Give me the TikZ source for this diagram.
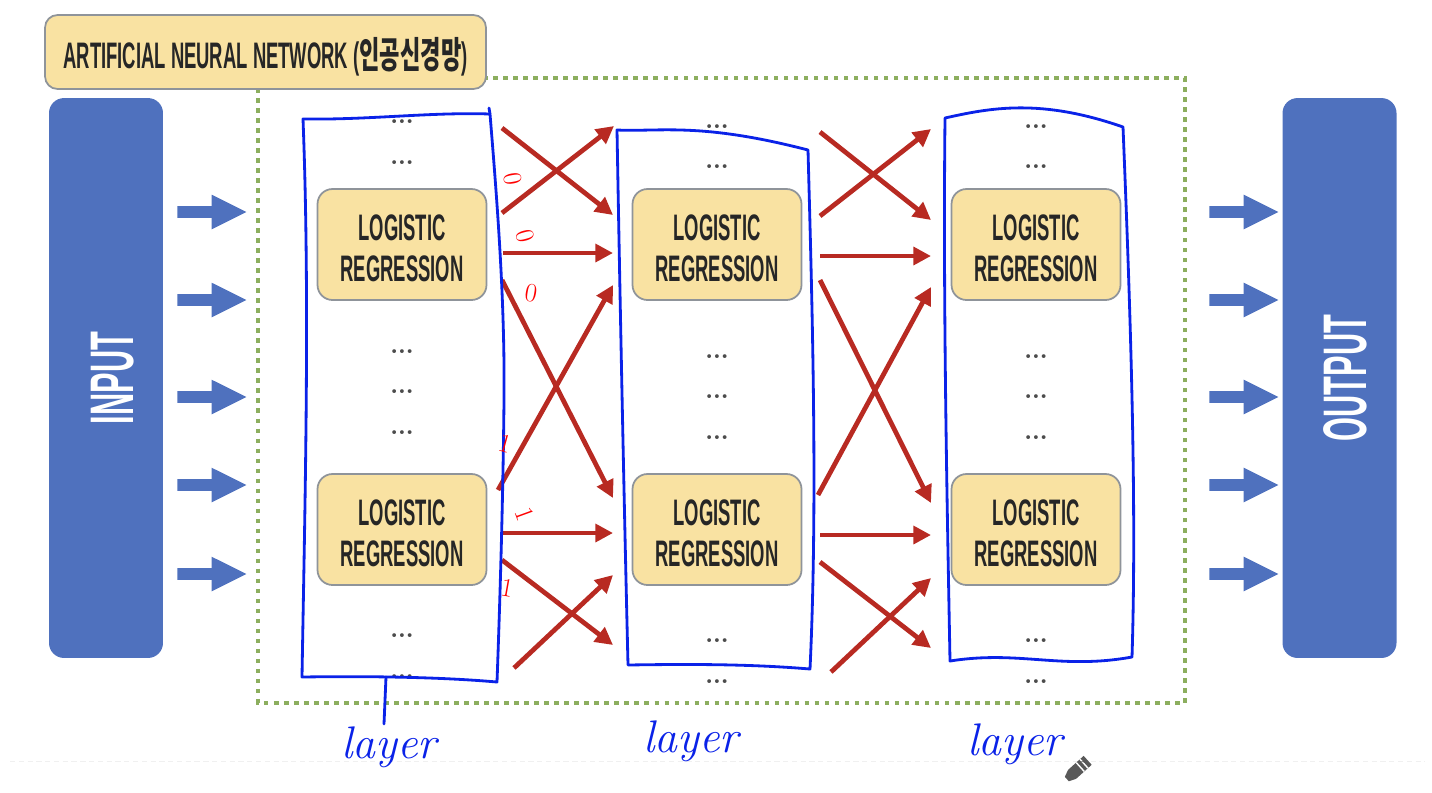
\documentclass[tikz,border=0pt]{standalone}
\usepackage{fontspec}
\usetikzlibrary{arrows.meta,shapes.arrows}
\newfontfamily\posterfont[FakeStretch=0.5]{Liberation Sans}
\newfontfamily\posterhangul[FakeStretch=0.6]{Noto Sans CJK KR}
\newfontfamily\dotfont{DejaVu Sans}
\newcommand{\pushdown}[1]{\rule{0pt}{#1}}
\definecolor{boxblue}{HTML}{4F71BE}
\definecolor{boxsand}{HTML}{F9E2A2}
\definecolor{boxedge}{HTML}{8F949A}
\definecolor{dotgreen}{HTML}{8CAE5E}
\definecolor{crossred}{HTML}{B82A22}
\definecolor{penblue}{HTML}{0A22E8}
\tikzset{
  sidebox/.style={fill=boxblue, rounded corners=0.3cm, minimum width=2.28cm, minimum height=11.2cm},
  sidetext/.style={text=white, font=\posterfont\bfseries\fontsize{35}{35}\selectfont, rotate=90},
  logitbox/.style={draw=boxedge, line width=1pt, fill=boxsand, rounded corners=0.3cm, minimum width=3.38cm, minimum height=2.22cm,
    align=center, font=\posterfont\bfseries\fontsize{21}{23}\selectfont, text=black!85},
  feedarrow/.style={single arrow, fill=boxblue, minimum height=1.38cm, minimum width=0.68cm,
    single arrow head extend=0.23cm, single arrow tip angle=53, inner xsep=0pt, inner ysep=0.11cm},
  skipdots/.style={text=black!70, font=\dotfont\fontsize{7.5}{7.5}\selectfont, inner sep=0pt, yshift=-1.5pt},
  crossarrow/.style={crossred, line width=2.7pt, -{Triangle[length=10pt,width=10pt]}},
  penline/.style={penblue, line width=1.6pt, line join=round, line cap=round},
  penword/.style={text=penblue, font=\itshape\fontsize{26}{26}\selectfont},
  penmark/.style={text=red, font=\fontsize{15}{15}\selectfont, inner sep=0pt},
}
\begin{document}
\begin{tikzpicture}[x=0.02cm, y=-0.02cm]
    \useasboundingbox (0,0) rectangle (1432,792);

    % Faint line under the words
    \draw[black!6, densely dashed] (10,761) -- (1425,761);

    % Dotted frame, title goes over it
    \draw[dotgreen, line width=2.6pt, dash pattern=on 2.6pt off 3.1pt] (258,78) rectangle (1185,703);
    \node[draw=boxedge, line width=1pt, fill=boxsand, rounded corners=0.25cm, minimum width=8.82cm, minimum height=1.48cm,
      font=\posterfont\bfseries\fontsize{21}{21}\selectfont, text=black!85] (titlebox) at (265.5,52)
      {\pushdown{23pt}ARTIFICIAL NEURAL NETWORK ({\posterhangul 인공신경망})};

    % Input and output
    \node[sidebox] (inputbox) at (106,378) {};
    \node[sidebox] (outputbox) at (1339.5,378) {};
    \node[sidetext] (inputword) at (113,378) {INPUT};
    \node[sidetext] (outputword) at (1345,378) {OUTPUT};
    \foreach \ya [count=\i] in {212,300,397,485,574}{
      \node[feedarrow] (inarrow\i) at (206,\ya) {};
      \node[feedarrow] (outarrow\i) at (1238,\ya) {};
    }

    % Logistic boxes
    \foreach \xa/\name in {402/one,717/two,1036/three}{
      \node[logitbox] (\name top) at (\xa,244.5) {\pushdown{19pt}LOGISTIC\\REGRESSION};
      \node[logitbox] (\name low) at (\xa,529.5) {\pushdown{19pt}LOGISTIC\\REGRESSION};
    }

    % Dots
    \foreach \ya [count=\i] in {120,161,350,390,431,634,675}{
      \node[skipdots] (dotsa\i) at (402,\ya) {•••};
    }
    \foreach \ya [count=\i] in {125,165,355,395,436,639,680}{
      \node[skipdots] (dotsb\i) at (717,\ya) {•••};
      \node[skipdots] (dotsc\i) at (1036,\ya) {•••};
    }

    % Red arrows
    \foreach \xa/\ya/\xb/\yb [count=\i] in {
      502/213/614/126, 502/128/613/215, 503/253/613/253, 502/280/613/498,
      498/490/613/285, 503/533/613/533, 502/560/613/645, 514/668/613/575,
      820/216/931/129, 820/132/931/220, 820/256/931/256, 820/280/931/503,
      818/495/931/287, 820/535/931/535, 820/562/931/648, 831/672/931/578}{
      \coordinate (from\i) at (\xa,\ya);
      \coordinate (to\i) at (\xb,\yb);
      \draw[crossarrow] (from\i) -- (to\i);
    }

    % Pen boxes
    \draw[penline] (303,119) .. controls (370,120) and (430,112) .. (490,114)
      .. controls (497,200) and (505,300) .. (504,400) .. controls (503,500) and (500,600) .. (497,682)
      .. controls (440,677) and (370,676) .. (302,677)
      .. controls (305,500) and (310,300) .. (303,119) -- cycle;
    \draw[penline] (489,108) -- (490,114);
    \draw[penline] (617,130) .. controls (660,132) and (700,122) .. (808,150)
      .. controls (812,300) and (818,500) .. (810,669)
      .. controls (750,664) and (690,664) .. (628,665)
      .. controls (624,500) and (620,300) .. (617,130) -- cycle;
    \draw[penline] (945,118) .. controls (990,108) and (1040,98) .. (1123,127)
      .. controls (1130,300) and (1137,500) .. (1132,657)
      .. controls (1060,670) and (1020,650) .. (950,661)
      .. controls (947,500) and (943,300) .. (945,118) -- cycle;

    % Tail and words
    \coordinate (tailtop) at (386,677);
    \coordinate (tailend) at (384,724);
    \draw[penline] (tailtop) -- (tailend);
    \node[penword] (wordone) at (389,747) {layer};
    \node[penword] (wordtwo) at (691,741) {layer};
    \node[penword] (wordthree) at (1015,744) {layer};

    % Marks
    \node[penmark, rotate=-80] (marka) at (513,179) {0};
    \node[penmark, rotate=-75] (markb) at (525,236) {0};
    \node[penmark, rotate=-10] (markc) at (531,293) {0};
    \node[penmark, rotate=-15] (markd) at (505,444) {1};
    \node[penmark, rotate=-70] (marke) at (525,514) {1};
    \node[penmark, rotate=-10] (markf) at (507,588) {1};

    % Pen cursor
    \begin{scope}[shift={(1078,769)}, rotate=42]
      \fill[black!65] (-15,-3) -- (-8,-6) -- (13,-6) -- (13,6) -- (-8,6) -- (-15,3) -- cycle;
      \draw[white, thick] (3,-6) -- (3,6) (8,-6) -- (8,6);
    \end{scope}
    \draw[black!65, thin] (1080,762) .. controls (1085,760) and (1086,765) .. (1089,764);
  \end{tikzpicture}
\end{document}
